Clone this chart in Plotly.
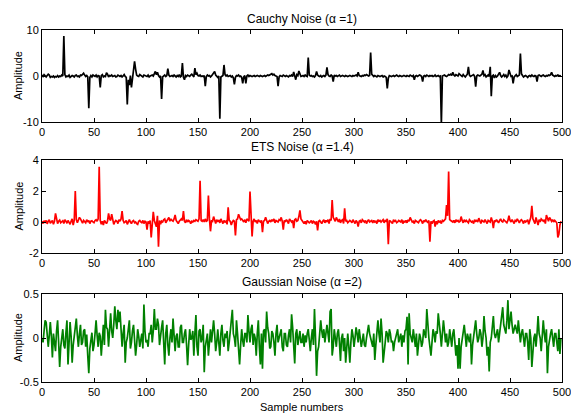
import plotly.graph_objects as go

# ---------------- data ----------------
sample_max = 500
x_ticks = [0, 50, 100, 150, 200, 250, 300, 350, 400, 450, 500]

titles = ["Cauchy Noise (\u03b1 =1)", "ETS Noise (\u03b1 =1.4)", "Gaussian Noise (\u03b1 =2)"]
y_label = "Amplitude"
x_label = "Sample numbers"

y1_ticks = [-10, 0, 10]
y1_text = ["-10", "0", "10"]
y2_ticks = [-2, 0, 2, 4]
y2_text = ["-2", "0", "2", "4"]
y3_ticks = [-0.5, 0, 0.5]
y3_text = ["-0.5", "0", "0.5"]

# Cauchy noise, in tenths
cauchy_tenths = [
    2, -1, 3, 0, -2, 1, 4, 2, -3, -1, -2, 0, -3, -1, -2, 1, -2, 0, -1, 2, 0, 87, 3, -2, 0,
    -1, 2, -3, -1, 1, 0, -2, 1, 2, -1, 0, -2, 2, 1, 3, 6, 2, -1, 1, -2, -70, -3, 1, -2, 2,
    0, -1, 2, -2, 1, 0, -25, 1, 3, -2, 0, -1, 7, 4, -2, 1, 0, 2, -1, 0, 1, -2, -1, 2, 0,
    -1, 1, -2, 0, 3, -1, -3, -62, -8, -20, 1, -25, -5, 2, 32, 15, 2, 0, -1, 3, 1, 0, -2, 2, 1,
    0, -1, 2, -2, 0, 1, 2, 0, 4, 10, 3, 8, 1, -2, 0, -50, -2, 0, 2, -1, 1, 16, 2, -1, 0,
    1, -1, 2, 0, -2, 1, -1, 3, -2, 0, 28, -3, -8, 1, -1, 2, 0, -1, 2, 4, 1, -2, 17, 3, 6,
    1, 0, 2, -1, 0, -1, 1, -22, -1, 2, 0, 1, -2, 0, 3, 5, 10, 2, -1, -3, 0, -93, -2, 0, 1,
    24, 3, 0, 2, -1, 0, 1, -2, 0, -4, -18, -3, 1, 0, 2, -1, 0, -3, -16, -2, 1, -16, 0, 2, -1,
    1, 0, -1, 0, 1, -1, 0, 1, 0, -1, 1, 0, -1, 0, 1, -1, 0, 2, 1, 3, 4, 5, 2, 4, 1,
    0, -1, -22, -2, 1, 0, -1, 2, 0, -1, 1, 0, -2, 1, 0, 2, -1, 9, 2, -8, 3, 1, 11, 2, -1,
    0, 1, -1, 2, 0, -1, 40, 2, 0, 1, -1, 0, -2, 1, 10, 2, 0, -1, 1, -2, 0, 1, -1, 2, 19,
    3, 0, -1, 2, 0, -12, 2, 0, 1, -1, 0, 2, -1, 0, 1, 0, -1, 1, 0, -1, 0, 1, 0, -1, 1,
    0, 1, 2, 0, 8, 1, 0, -1, 1, 0, 2, 1, 3, 2, 0, 1, 51, 4, 0, -1, 1, 0, -2, 1, 0,
    -1, 0, 1, -2, 0, -1, -3, -27, -5, 1, 0, -1, 0, 1, -1, 0, 2, 0, -1, 1, 0, -1, 0, 1, 0,
    -1, 1, 0, -1, 2, 0, -1, 1, -8, 0, 1, -1, 0, 2, 1, -1, -12, 0, 1, -1, 2, 0, -1, 1, 0,
    1, -1, 0, 2, -1, 0, 1, -1, 0, -105, 0, 1, 2, 0, -1, 1, 3, 2, 4, 1, 8, 2, 0, 3, 1,
    0, 5, 2, 1, -1, 3, 0, -2, 1, 4, 20, 2, -1, 0, 1, 3, -1, -23, 0, 2, 1, 0, 2, 4, 12,
    1, 3, -2, 0, 2, -1, 20, -44, 0, 2, -4, 1, -2, 0, 3, 8, 1, -2, 0, 3, -1, 2, -3, 0, 13,
    2, -1, 0, -16, -2, 1, 3, -1, 0, 2, 49, 5, 1, -2, 0, 1, -1, -3, 0, 1, -1, 2, 0, -1, 1,
    0, -12, 1, 2, 0, -1, 1, 2, 0, -1, 1, 0, 2, 1, 3, 8, 2, 0, -1, 1, 0, 2, 1, 0, 1,
]

# ETS noise, in hundredths
ets_centi = [
    5, -10, 8, -5, 10, -12, 5, 15, -8, 0, 10, -15, 5, 56, 8, -10, 5, 12, -5, 0, 8, -10, 15, 5, -8,
    10, 0, -15, 5, 20, -20, 10, 200, 15, -5, 10, 30, 20, 5, -8, 10, 5, -5, 15, 0, 10, -10, 5, 8, 0,
    -5, 10, 15, 5, 20, 357, 10, -15, 5, -20, 10, 0, -10, 5, 55, 20, 10, 50, 5, -15, 0, 10, 5, -10, 15,
    5, 20, 70, 10, -5, 0, 10, -15, 5, 15, 0, -10, 5, 10, -5, 0, -10, -15, 5, 10, 0, -5, 10, -10, 5,
    0, -50, 5, -10, 10, -100, 20, 66, 10, -20, -30, 40, -160, 10, -15, 5, 0, 15, 20, -5, 10, 15, 30, 5, 20,
    10, 5, 20, 45, 10, 0, -10, 5, 15, 20, 10, 70, 5, -5, 15, 0, 10, 5, -10, 5, 0, 10, 5, 15, 10,
    5, 20, 266, 10, 5, 15, 0, 20, 5, 10, 170, 20, -60, 10, 5, 35, 0, -10, 15, 5, 10, -5, 20, 5, -10,
    10, 0, 5, -15, 95, 10, 5, -20, 0, 10, 5, -86, 15, 20, 50, 30, 15, 20, 10, 0, 15, -5, 20, 10, 5,
    196, 10, -93, 5, 20, 0, 10, -10, 15, 5, 0, 10, -65, 5, 10, 30, 15, -10, 5, 10, 0, 15, 5, 20, -5,
    10, 5, 0, 15, 10, 30, 5, -50, 10, 0, 15, 5, -10, 20, 5, 0, 10, -40, 15, 20, 5, 10, 35, 75, 20,
    10, 0, -10, 5, -15, 10, 5, -5, 0, 10, -10, 5, 0, -15, 5, -55, 5, 10, 0, -10, 5, 15, -5, 10, 0,
    15, -10, 20, 10, 142, 30, 15, 5, 30, 10, 0, 20, -5, 10, 15, -10, 88, 5, 10, -5, 0, 10, 5, -5, 15,
    5, -10, 10, 0, -30, 5, 10, -5, 15, 5, 0, 10, -10, 5, 15, 0, 5, 10, -5, 10, 0, 5, -10, 15, 5,
    10, 0, 5, 15, -5, 10, 5, 20, -144, 10, 5, 0, -10, 15, 5, 10, -5, 0, 10, 5, 0, 15, -10, 5, 0,
    10, -5, 15, 5, 30, 10, 0, 5, -10, 10, 5, 0, -5, 10, 15, 5, -10, 10, 0, 15, 5, -5, 10, -127, 5,
    -10, 5, 10, -30, 5, -15, 10, 0, 5, -10, 10, 5, 15, 20, 110, 40, 325, 15, 10, 5, 0, 10, -5, 15, 5,
    10, 0, 5, 35, 10, -5, 15, 0, 10, 5, -5, 15, 10, 0, 5, -10, 15, 5, 10, 0, 25, 5, -10, 10, 5,
    0, 15, 5, -10, 10, 5, 0, 30, 5, -40, 10, 0, 15, 5, -5, 10, 20, 5, 0, 15, 10, 5, -5, 10, 40,
    10, 0, 15, 5, -10, 10, 5, 20, 0, -5, 10, 15, 5, -10, 10, 0, 5, 15, -15, 10, 30, 105, 20, 5, -10,
    30, 5, -20, 15, 0, 20, 10, 5, 15, -10, 45, 15, 5, 30, 10, 5, 15, 0, 10, 5, -5, -100, -80, -20, 5,
]

# Gaussian noise, in hundredths
gauss_centi = [
    0, -5, 8, 20, 18, 5, -10, 3, 18, 2, -22, 5, -3, -15, 8, 20, -5, -33, -10, 5, 10, -8, -12, 6, 20,
    -30, -5, 18, 2, -28, -8, 5, 12, 22, 3, -10, 5, 15, -8, -5, 8, 10, -10, 4, -20, -40, -12, -5, 6, -15,
    -8, 5, 20, 3, -10, 6, 2, -20, -5, 15, -8, 32, 12, 10, -10, 5, 28, 8, 0, 15, 36, 20, 10, 32, 18,
    30, 12, -10, 5, 15, -28, -5, 0, 10, 20, -12, -5, 8, 15, -2, -20, -8, 10, 2, -10, -2, 5, -12, 38, 8,
    -5, -2, -10, 5, 5, 15, -5, 8, 33, 10, 10, 22, 15, -8, 5, 12, 20, -12, -30, 5, 15, -8, -20, 0, 10,
    -5, 22, 3, -15, 2, 5, -10, -10, 12, 15, -5, -5, 5, 10, -8, -31, -8, 10, -2, 0, 8, -20, 5, 26, -10,
    -20, 8, 10, -5, 0, 15, -39, -10, 0, 5, -20, -8, 10, -5, 8, 20, 5, -15, -5, 10, -5, -20, 5, 15, -3,
    -10, 5, 0, 8, -15, -5, 5, 18, 32, 5, 0, -10, 20, 5, -12, -30, -8, 10, -3, -10, 5, 5, -5, 26, 8,
    -5, 10, 15, -8, 5, 0, -20, 5, 20, -10, -30, 5, -35, 8, 10, -5, 30, 12, 5, -12, -10, 8, 5, -5, -20,
    5, 15, -5, 0, 8, 10, -10, -15, 5, 5, -8, -10, 3, 10, -5, 27, 12, -5, -29, 5, 10, -8, 0, 8, -5,
    -5, 5, -10, 3, -5, 5, 10, -2, -15, 0, 10, -8, 33, 0, -43, -15, -10, 5, 20, 8, 0, 10, -5, 5, 15,
    5, -5, 30, 33, -20, -10, 10, 0, -10, 5, 10, -5, -26, 0, 5, -15, 0, -28, -5, 5, -10, -28, -5, 10, 3,
    -10, 0, 12, 5, -5, 10, 0, -10, -3, 5, -8, -10, 0, 8, 15, 5, 0, -5, -10, 5, -25, -8, 5, 20, 5,
    -5, 22, 5, -28, -10, -5, 8, 5, -5, 10, 5, -5, -3, -15, -5, 0, 5, 10, -5, 0, 5, -10, 3, -5, 8,
    10, 24, -30, 28, 5, 0, -5, 10, 0, -10, 5, -20, -8, 5, 0, -10, -5, 10, 5, 0, 33, 8, 0, -10, -20,
    -5, 10, 5, -5, 8, 5, 28, 10, 5, -10, 5, 20, 8, -5, 5, -10, -5, 10, 0, -10, 5, 10, -5, -20, -8,
    -35, 0, -35, -10, 0, 5, 15, 3, -10, 5, 0, -5, 5, -30, -8, 0, 10, 20, 5, -5, 0, 10, 5, -10, 0,
    25, 8, 0, -20, -10, -38, -5, 0, 10, 25, 5, 0, 5, 10, -5, 5, 8, 20, 35, 15, 10, 5, 20, 43, 10,
    20, 30, 15, 5, 10, 15, 10, 5, 20, 10, -5, 5, 10, 0, -10, 5, 5, -5, -25, 10, 0, -33, -10, 0, 5,
    -10, 5, 25, 5, 0, -15, 5, 20, 5, -5, 10, -40, -10, 0, 5, 10, 0, -10, 5, 5, -5, -15, 10, -18, 0,
]

cauchy = [v / 10 for v in cauchy_tenths]
ets = [v / 100 for v in ets_centi]
gauss = [v / 100 for v in gauss_centi]

series = [cauchy, ets, gauss]
colors = ["#000000", "#ff0000", "#008000"]

# ---------------- layout geometry ----------------
# The page places the figure 8px from the top-left corner (default body margin),
# so page-pixel positions are converted into figure pixels.
OFF = 8
W, H = 579 - OFF, 414 - OFF


def fx(px):
    return (px - OFF) / W


def fy(py):
    return 1 - (py - OFF) / H


x_dom = [fx(42), fx(562)]
panels_px = [(30, 122), (160, 253), (294, 382)]  # top, bottom in page pixels
y_doms = [[fy(b), fy(t)] for (t, b) in panels_px]
title_y_px = [19, 147, 282]

fig = go.Figure()
for i, (s, c) in enumerate(zip(series, colors)):
    sfx = "" if i == 0 else str(i + 1)
    fig.add_trace(go.Scatter(
        x=list(range(len(s))), y=s, mode="lines",
        line=dict(color=c, width=1.7),
        xaxis="x" + sfx, yaxis="y" + sfx, showlegend=False, hoverinfo="skip",
    ))

font = dict(family="Liberation Sans, Arial, sans-serif", size=11, color="#000000")
axis_common = dict(
    showline=True, linecolor="#000000", linewidth=1, mirror="ticks",
    ticks="inside", ticklen=4, tickcolor="#000000", tickwidth=1,
    showgrid=False, zeroline=False, tickfont=font, automargin=False,
)

y_ticks = [(y1_ticks, y1_text, [-10, 10]), (y2_ticks, y2_text, [-2, 4]), (y3_ticks, y3_text, [-0.5, 0.5])]

layout = dict(
    template="none",
    width=W, height=H,
    margin=dict(l=0, r=0, t=0, b=0, autoexpand=False),
    paper_bgcolor="white", plot_bgcolor="white",
    font=font, showlegend=False,
)
annotations = []
for i in range(3):
    sfx = "" if i == 0 else str(i + 1)
    layout["xaxis" + sfx] = dict(
        axis_common, domain=x_dom, range=[0, sample_max],
        tickvals=x_ticks, ticktext=[str(v) for v in x_ticks],
        anchor="y" + sfx,
    )
    tv, tt, rng = y_ticks[i]
    layout["yaxis" + sfx] = dict(
        axis_common, domain=y_doms[i], range=rng,
        tickvals=tv, ticktext=tt, anchor="x" + sfx,
    )
    annotations.append(dict(
        text=titles[i], x=(x_dom[0] + x_dom[1]) / 2, y=fy(title_y_px[i]),
        xref="paper", yref="paper", showarrow=False, xanchor="center", yanchor="middle",
        font=dict(font, size=12),
    ))
    mid = (panels_px[i][0] + panels_px[i][1]) / 2
    annotations.append(dict(
        text=y_label, x=fx(18), y=fy(mid), textangle=-90,
        xref="paper", yref="paper", showarrow=False, xanchor="center", yanchor="middle",
        font=font,
    ))
annotations.append(dict(
    text=x_label, x=(x_dom[0] + x_dom[1]) / 2, y=fy(407),
    xref="paper", yref="paper", showarrow=False, xanchor="center", yanchor="middle",
    font=font,
))
layout["annotations"] = annotations
fig.update_layout(**layout)

fig.write_html("out.html")
